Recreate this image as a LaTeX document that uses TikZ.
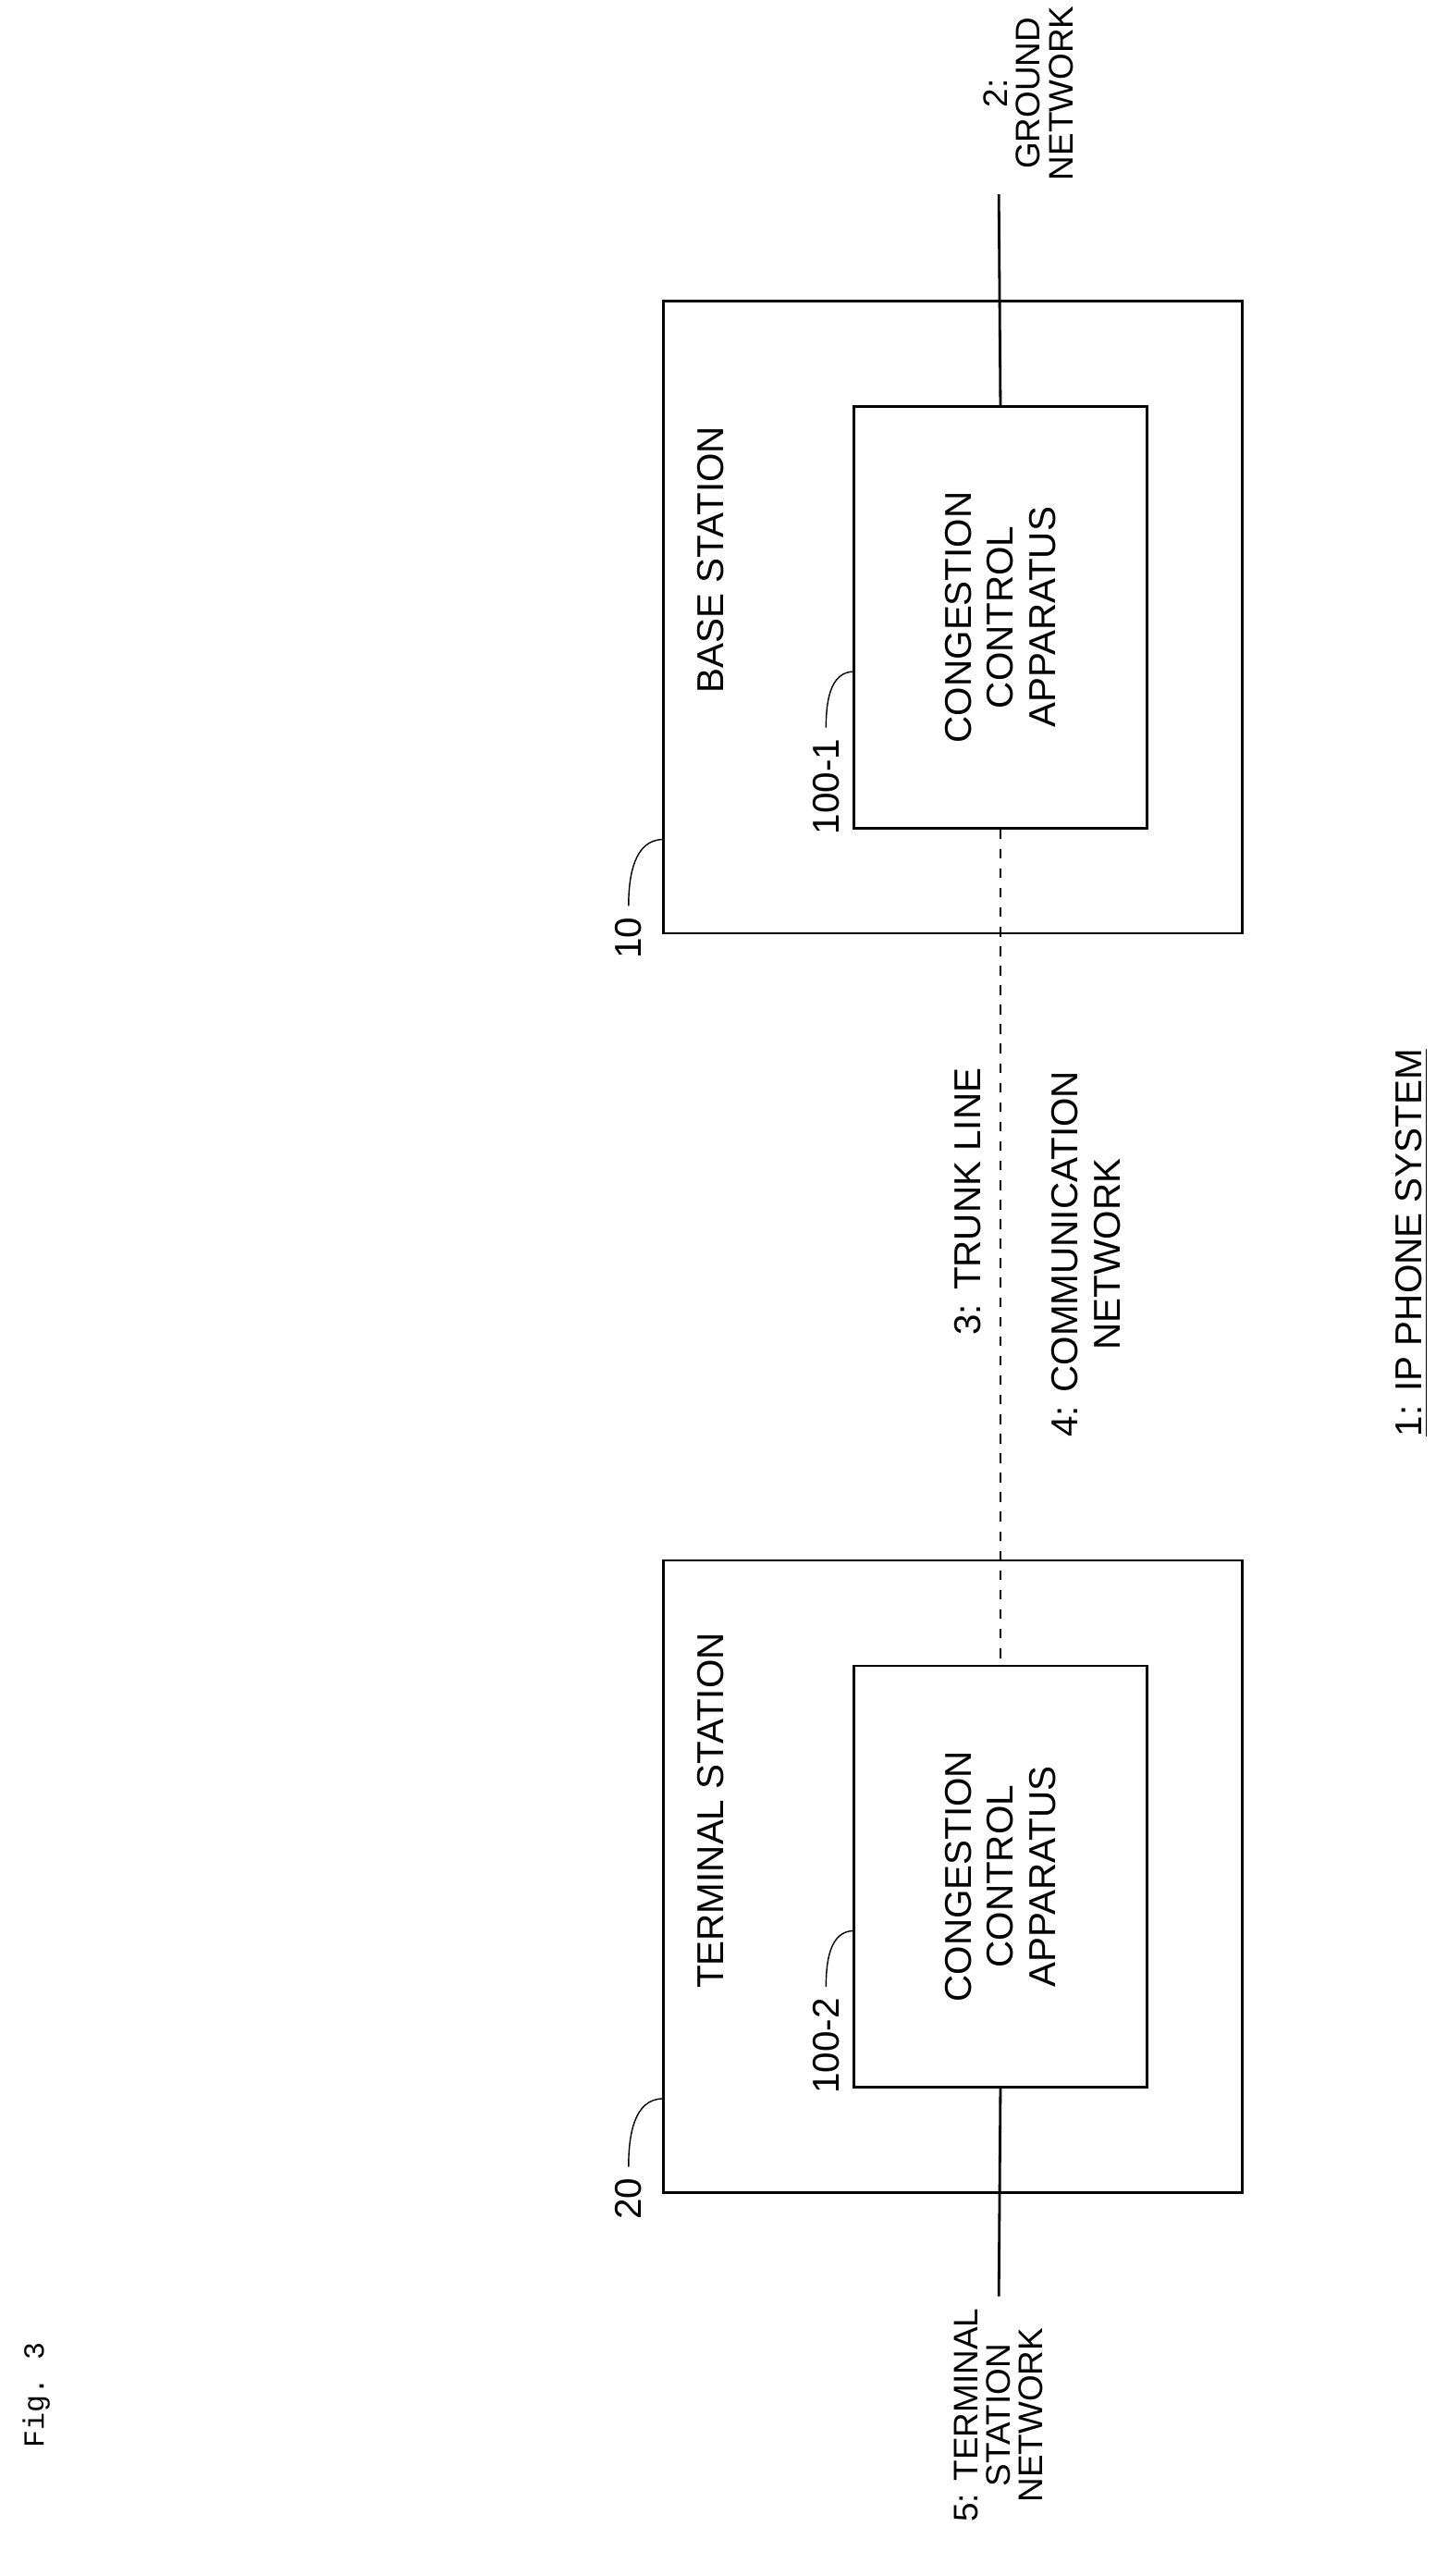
\documentclass[tikz,border=0pt]{standalone}
\usepackage{fontspec}
\setmainfont{Liberation Sans}
\setmonofont{Liberation Mono}
\tikzset{
  box/.style={draw,thick,rectangle},
  label text/.style={rotate=90,font=\fontsize{11.5}{13}\selectfont,align=center},
  net text/.style={rotate=90,font=\fontsize{10.5}{10}\selectfont,align=center,inner sep=1pt},
  wire/.style={thick},
  trunk/.style={thick,dashed},
  leader/.style={thin},
}
\begin{document}
\begin{tikzpicture}[x=0.178mm,y=-0.178mm]
\useasboundingbox (0,0) rectangle (880,1565);

% base station
\node [box,minimum width=352*0.178mm,minimum height=384*0.178mm] (bs) at (579,375) {};
\node [box,minimum width=178*0.178mm,minimum height=256*0.178mm] (cc1) at (608,375) {};
\node [label text] at (cc1.center) {CONGESTION\\CONTROL\\APPARATUS};
\node [label text] at (432,340) {BASE STATION};

% terminal station
\node [box,minimum width=352*0.178mm,minimum height=384*0.178mm] (ts) at (579,1140) {};
\node [box,minimum width=178*0.178mm,minimum height=256*0.178mm] (cc2) at (608,1140) {};
\node [label text] at (cc2.center) {CONGESTION\\CONTROL\\APPARATUS};
\node [label text] at (432,1100) {TERMINAL STATION};

% networks
\coordinate (gnd) at (607,118);
\coordinate (tsn) at (607,1395);
\draw [wire] (gnd) -- (cc1.north);
\draw [trunk] (cc1.south) -- (cc2.north);
\draw [wire] (cc2.south) -- (tsn);

\node [net text,anchor=west] at (625,112) {2:\\GROUND\\NETWORK};
\node [net text,anchor=east] at (607,1400) {5: TERMINAL\\STATION\\NETWORK};
\node [label text] at (588,730) {3: TRUNK LINE};
\node [label text] at (660,762) {4: COMMUNICATION\\NETWORK};
\node [label text] at (858,755) {\underline{1: IP PHONE SYSTEM}};

% reference numerals
\node [label text] (n10) at (382,570) {10};
\node [label text] (n20) at (382,1336) {20};
\node [label text] (n1001) at (502,478) {100-1};
\node [label text] (n1002) at (502,1243) {100-2};
\draw [leader] (n10.east) to[out=90,in=180] (403,510);
\draw [leader] (n20.east) to[out=90,in=180] (403,1275);
\draw [leader] (n1001.east) to[out=90,in=180] (519,408);
\draw [leader] (n1002.east) to[out=90,in=180] (519,1173);

\node [rotate=90,font=\ttfamily\small] at (22,1455) {Fig. 3};
\end{tikzpicture}
\end{document}
